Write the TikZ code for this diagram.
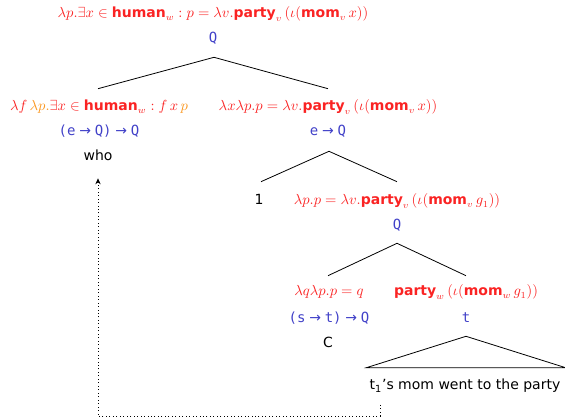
\documentclass[tikz,border=0pt]{standalone}
\usepackage{fontspec}
\setmainfont{DejaVu Sans}
\setmonofont{DejaVu Sans Mono}
\usetikzlibrary{arrows.meta,calc}
\definecolor{semred}{RGB}{250,35,35}
\definecolor{semorange}{RGB}{250,150,30}
\definecolor{typeblue}{RGB}{65,65,200}
\newcommand{\tyarr}{\hspace{0.27em}{\rmfamily →}\hspace{0.27em}}
\begin{document}
\begin{tikzpicture}[x=0.75pt,y=-0.75pt,
  every node/.style={inner sep=0pt,text height=7pt,text depth=2.5pt,font=\fontsize{10.5}{12}\selectfont},
  sem/.style={text=semred},
  typ/.style={text=typeblue,font=\fontsize{10.5}{12}\selectfont\ttfamily},
  word/.style={text=black},
  branch/.style={line width=0.6pt},
  movement/.style={dotted,line width=0.6pt,-{Stealth[length=4.5pt,width=4pt]},shorten >=10.3pt}]
\useasboundingbox (0,0) rectangle (565,417);
% root
\node[sem] (s0) at (213,15) {$\lambda p.\exists x\in\textbf{human}_w : p=\lambda v.\textbf{party}_v\,(\iota(\textbf{mom}_v\,x))$};
\node[typ] (q0) at (213,40) {Q};
% left daughter
\node[sem] (lf) at (99,108) {$\lambda f$\,{\color{semorange}$\lambda p.$}$\exists x\in\textbf{human}_w : f\,x$\,{\color{semorange}$p$}};
\node[typ] (lt) at (99,133) {(e\tyarr Q)\tyarr Q};
\node[word] (who) at (98,158) {who};
% right daughter
\node[sem] (rf) at (328,108) {$\lambda x\lambda p.p=\lambda v.\textbf{party}_v\,(\iota(\textbf{mom}_v\,x))$};
\node[typ] (rt) at (328,133) {e\tyarr Q};
% level 3
\node[word] (one) at (259,202) {1};
\node[sem] (rf2) at (397,202) {$\lambda p.p=\lambda v.\textbf{party}_v\,(\iota(\textbf{mom}_v\,g_1))$};
\node[typ] (rt2) at (397,227) {Q};
% level 4
\node[sem] (cf) at (329,293) {$\lambda q\lambda p.p=q$};
\node[typ] (ct) at (329,320) {(s\tyarr t)\tyarr Q};
\node[word] (c) at (328,345) {C};
\node[sem] (pf) at (466,293) {$\textbf{party}_w\,(\iota(\textbf{mom}_w\,g_1))$};
\node[typ] (pt) at (466,320) {t};
\node[word] (sent) at (465,387) {t\textsubscript{1}'s mom went to the party};
% branches
\draw[branch] ($(lf.north)+(-1,-12.7)$) -- ($(q0.south)+(1,10.7)$) -- ($(rf.north)+(0,-12.7)$);
\draw[branch] ($(one.north)+(2,-13.7)$) -- ($(rt.south)+(1,11.7)$) -- ($(rf2.north)+(0,-13.7)$);
\draw[branch] ($(cf.north)+(-1,-10.7)$) -- ($(rt2.south)+(0,9.7)$) -- ($(pf.north)+(0,-10.7)$);
% triangle
\draw[branch] ($(pt.south)+(0,9.7)$) -- ($(sent.north west)+(-3,-12.7)$) -- ($(sent.north east)+(5,-12.7)$) -- cycle;
% movement
\coordinate (trace) at (380,405);
\draw[movement] (trace) -- ++(0,11) -| (who.south);
\end{tikzpicture}
\end{document}
